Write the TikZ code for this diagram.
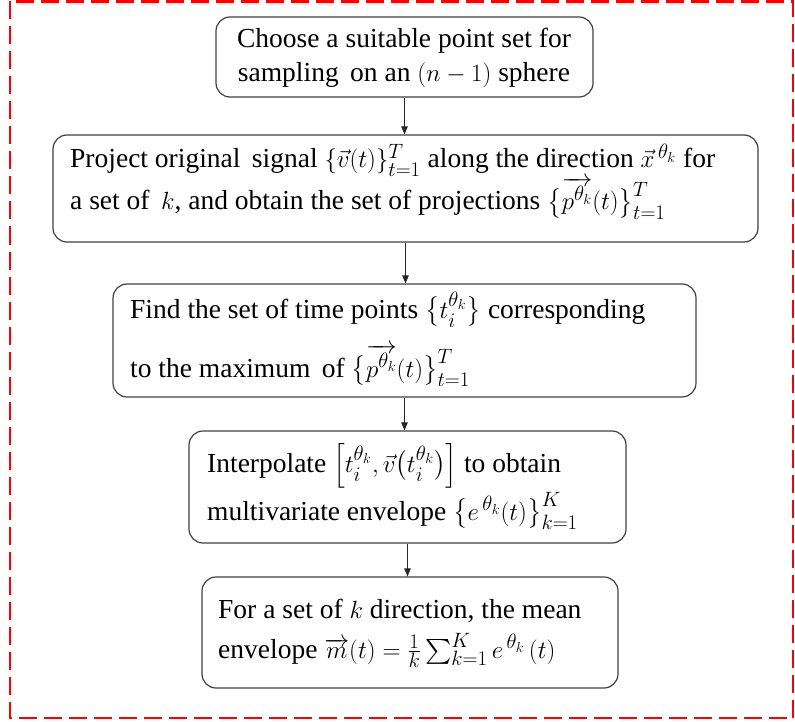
\documentclass[tikz,border=0pt]{standalone}
\usepackage{amsmath}
\usepackage{exscale}
\usepackage{fontspec}
\setmainfont{Liberation Serif}
\usetikzlibrary{arrows.meta}
\begin{document}
\begin{tikzpicture}[x=1pt,y=-1pt,
  box/.style={draw=black!75, line width=1.2pt, rounded corners=14pt, inner sep=0pt, anchor=center},
  txt/.style={inner sep=0pt, font=\fontsize{27.5}{32}\selectfont},
  arr/.style={draw=black!85, line width=0.9pt, -{Triangle[length=8pt,width=6.5pt]}},
  frame/.style={draw=red, line width=2.8pt, dash pattern=on 18pt off 7pt}]
\useasboundingbox (0,0) rectangle (795,722);
\draw[frame] (10,1.5) rectangle (793,718);
% boxes
\node[box, minimum width=377pt, minimum height=80pt]  (b1) at (404.5,57) {};
\node[box, minimum width=705pt, minimum height=107pt] (b2) at (405.5,188.5) {};
\node[box, minimum width=583pt, minimum height=113pt] (b3) at (404.5,340.5) {};
\node[box, minimum width=437pt, minimum height=112pt] (b4) at (407.5,487) {};
\node[box, minimum width=416pt, minimum height=111pt] (b5) at (410,632.5) {};
% texts
\node[txt, anchor=base] (t1a) at (404,48) {Choose a suitable point set for};
\node[txt, anchor=base] (t1b) at (404,82) {sampling\, on an $(n-1)$ sphere};
\node[txt, anchor=base west] (t2a) at (70,168) {Project original\, signal $\{\vec{v}(t)\}_{t=1}^{T}$ along the direction $\vec{x}^{\,\theta_k}$ for};
\node[txt, anchor=base west] (t2b) at (70,210) {a set of\, $k$, and obtain the set of projections $\bigl\{\overrightarrow{p^{\theta_k}}(t)\bigr\}_{t=1}^{T}$};
\node[txt, anchor=base west] (t3a) at (130,318) {Find the set of time points $\bigl\{t_i^{\theta_k}\bigr\}$ corresponding};
\node[txt, anchor=base west] (t3b) at (130,377) {to the maximum\, of $\bigl\{\overrightarrow{p^{\theta_k}}(t)\bigr\}_{t=1}^{T}$};
\node[txt, anchor=base west] (t4a) at (207,472) {Interpolate $\Bigl[t_i^{\theta_k}, \vec{v}\bigl(t_i^{\theta_k}\bigr)\Bigr]$ to obtain};
\node[txt, anchor=base west] (t4b) at (207,520) {multivariate envelope $\bigl\{e^{\,\theta_k}(t)\bigr\}_{k=1}^{K}$};
\node[txt, anchor=base west] (t5a) at (218,618) {For a set of $k$ direction, the mean};
\node[txt, anchor=base west] (t5b) at (218,658) {envelope $\overrightarrow{m}(t)=\frac{1}{k}\sum_{k=1}^{K} e^{\,\theta_k}\,(t)$};
% arrows
\draw[arr] (b1.south) -- (b1.south |- b2.north);
\draw[arr] (b2.south) -- (b2.south |- b3.north);
\draw[arr] (b3.south) -- (b3.south |- b4.north);
\draw[arr] (b4.south) -- (b4.south |- b5.north);
\end{tikzpicture}
\end{document}
